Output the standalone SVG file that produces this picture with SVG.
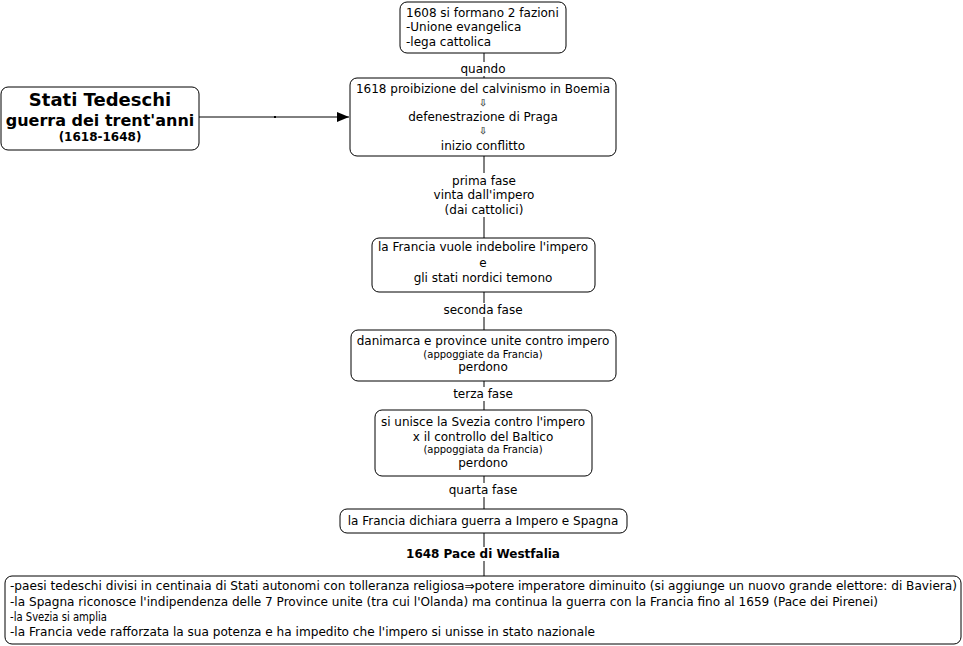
<svg xmlns="http://www.w3.org/2000/svg" width="963" height="646" viewBox="0 0 963 646">
<style>
.box{fill:#fff;stroke:#000;stroke-width:1}
text{font-family:"DejaVu Sans",Verdana,sans-serif;font-size:12px;fill:#000}
.c{text-anchor:middle}
.s{font-size:10px}
.b{font-weight:bold}
.ar{font-size:10px;fill:#444;font-weight:bold}
.ln{stroke:#000;stroke-width:1;fill:none}
</style>
<defs>
<marker id="ah" markerWidth="12" markerHeight="10" refX="12" refY="5" orient="auto" markerUnits="userSpaceOnUse">
<path d="M0,0 L12,5 L0,10 Z" fill="#000"/>
</marker>
</defs>
<rect width="963" height="646" fill="#fff"/>
<g id="connectors">
<line class="ln" x1="484" y1="53" x2="484" y2="78"/>
<line class="ln" x1="199" y1="117" x2="349" y2="117" marker-end="url(#ah)"/>
<rect x="274" y="116" width="2" height="2" fill="#000"/>
<line class="ln" x1="484" y1="156" x2="484" y2="238"/>
<line class="ln" x1="484" y1="292" x2="484" y2="330"/>
<line class="ln" x1="484" y1="381" x2="484" y2="410"/>
<line class="ln" x1="484" y1="476" x2="484" y2="509"/>
<line class="ln" x1="484" y1="533" x2="484" y2="576"/>
<rect x="458" y="62" width="52" height="14" fill="#fff"/>
<text class="c" x="483" y="73">quando</text>
<rect x="414" y="173" width="140" height="44" fill="#fff"/>
<text class="c" x="484" y="185">prima fase</text>
<text class="c" x="484" y="199">vinta dall'impero</text>
<text class="c" x="484" y="214">(dai cattolici)</text>
<rect x="436" y="303" width="96" height="14" fill="#fff"/>
<text class="c" x="483" y="314">seconda fase</text>
<rect x="446" y="387" width="76" height="14" fill="#fff"/>
<text class="c" x="483" y="398">terza fase</text>
<rect x="442" y="483" width="84" height="14" fill="#fff"/>
<text class="c" x="483" y="494">quarta fase</text>
<rect x="402" y="547" width="162" height="14" fill="#fff"/>
<text class="c b" x="483" y="558">1648 Pace di Westfalia</text>
</g>
<g id="n-1608">
<rect class="box" x="400" y="2" width="166" height="51" rx="7"/>
<text x="406" y="17">1608 si formano 2 fazioni</text>
<text x="406" y="31">-Unione evangelica</text>
<text x="406" y="46">-lega cattolica</text>
</g>
<g id="n-main">
<rect class="box" x="1" y="87" width="198" height="63" rx="7"/>
<text class="c b" x="100" y="106" style="font-size:18px">Stati Tedeschi</text>
<text class="c b" x="100" y="126" style="font-size:16px">guerra dei trent'anni</text>
<text class="c b" x="100" y="141" style="font-size:12px">(1618-1648)</text>
</g>
<g id="n-1618">
<rect class="box" x="350" y="78" width="266" height="78" rx="7"/>
<text class="c" x="483" y="93">1618 proibizione del calvinismo in Boemia</text>
<text class="c ar" x="483" y="106">⇩</text>
<text class="c" x="483" y="121">defenestrazione di Praga</text>
<text class="c ar" x="483" y="134">⇩</text>
<text class="c" x="483" y="150">inizio conflitto</text>
</g>
<g id="n-francia">
<rect class="box" x="372" y="238" width="223" height="54" rx="7"/>
<text class="c" x="483" y="251">la Francia vuole indebolire l'impero</text>
<text class="c" x="483" y="267">e</text>
<text class="c" x="483" y="282">gli stati nordici temono</text>
</g>
<g id="n-danimarca">
<rect class="box" x="351" y="330" width="265" height="51" rx="7"/>
<text class="c" x="483" y="345">danimarca e province unite contro impero</text>
<text class="c s" x="483" y="358">(appoggiate da Francia)</text>
<text class="c" x="483" y="371">perdono</text>
</g>
<g id="n-svezia">
<rect class="box" x="375" y="410" width="217" height="66" rx="7"/>
<text class="c" x="483" y="426">si unisce la Svezia contro l'impero</text>
<text class="c" x="483" y="441">x il controllo del Baltico</text>
<text class="c s" x="483" y="453">(appoggiata da Francia)</text>
<text class="c" x="483" y="467">perdono</text>
</g>
<g id="n-guerra">
<rect class="box" x="340" y="509" width="287" height="24" rx="7"/>
<text class="c" x="483" y="525">la Francia dichiara guerra a Impero e Spagna</text>
</g>
<g id="n-pace">
<rect class="box" x="5" y="576" width="956" height="68" rx="7"/>
<text x="10" y="590" textLength="947" lengthAdjust="spacingAndGlyphs">-paesi tedeschi divisi in centinaia di Stati autonomi con tolleranza religiosa⇒potere imperatore diminuito (si aggiunge un nuovo grande elettore: di Baviera)</text>
<text x="10" y="606" textLength="868" lengthAdjust="spacingAndGlyphs">-la Spagna riconosce l'indipendenza delle 7 Province unite (tra cui l'Olanda) ma continua la guerra con la Francia fino al 1659 (Pace dei Pirenei)</text>
<text x="10" y="621" textLength="97" lengthAdjust="spacingAndGlyphs">-la Svezia si amplia</text>
<text x="10" y="636" textLength="585" lengthAdjust="spacingAndGlyphs">-la Francia vede rafforzata la sua potenza e ha impedito che l'impero si unisse in stato nazionale</text>
</g>
</svg>
